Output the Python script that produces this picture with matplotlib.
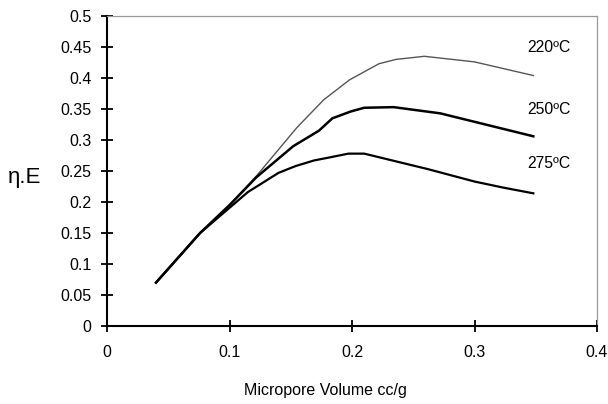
import matplotlib
matplotlib.use("Agg")
import matplotlib.pyplot as plt

plt.rcParams['font.family'] = ['Liberation Sans', 'DejaVu Sans']

# Data
x_220 = [0.04, 0.076, 0.100, 0.122, 0.155, 0.177, 0.198, 0.222, 0.236, 0.259, 0.300, 0.348]
y_220 = [0.070, 0.150, 0.195, 0.242, 0.320, 0.365, 0.397, 0.423, 0.430, 0.435, 0.426, 0.404]

x_250 = [0.04, 0.076, 0.100, 0.122, 0.152, 0.173, 0.184, 0.199, 0.210, 0.234, 0.272, 0.348]
y_250 = [0.070, 0.150, 0.195, 0.240, 0.290, 0.315, 0.335, 0.346, 0.352, 0.353, 0.343, 0.306]

x_275 = [0.04, 0.076, 0.115, 0.140, 0.154, 0.169, 0.182, 0.197, 0.210, 0.262, 0.300, 0.324, 0.348]
y_275 = [0.070, 0.150, 0.216, 0.247, 0.258, 0.267, 0.272, 0.278, 0.278, 0.253, 0.233, 0.223, 0.214]

labels = ["220ºC", "250ºC", "275ºC"]
label_y = [0.450, 0.349, 0.262]
label_x = 0.343

x_ticks = [0, 0.1, 0.2, 0.3, 0.4]
x_ticklabels = ["0", "0.1", "0.2", "0.3", "0.4"]
y_ticks = [0, 0.05, 0.1, 0.15, 0.2, 0.25, 0.3, 0.35, 0.4, 0.45, 0.5]
y_ticklabels = ["0", "0.05", "0.1", "0.15", "0.2", "0.25", "0.3", "0.35", "0.4", "0.45", "0.5"]

fig = plt.figure(figsize=(6.08, 4.04), dpi=100)
ax = fig.add_axes([107/608, 1-326/404, 490/608, 310/404])

ax.plot(x_220, y_220, color="#555555", lw=1.0)
ax.plot(x_250, y_250, color="black", lw=1.8)
ax.plot(x_275, y_275, color="black", lw=1.6)

for lab, ly in zip(labels, label_y):
    ax.text(label_x, ly, lab, fontsize=11.3, ha="left", va="center", color="black")

ax.set_xlim(0, 0.4)
ax.set_ylim(0, 0.5)
ax.set_xticks(x_ticks)
ax.set_xticklabels(x_ticklabels)
ax.set_yticks(y_ticks)
ax.set_yticklabels(y_ticklabels)

ax.tick_params(axis="both", direction="inout", length=8, width=1.3, labelsize=11.5, colors="black")
ax.tick_params(axis="y", pad=7)
ax.tick_params(axis="x", pad=10)

for s in ["left", "bottom"]:
    ax.spines[s].set_linewidth(1.5)
    ax.spines[s].set_color("black")
for s in ["top", "right"]:
    ax.spines[s].set_linewidth(0.9)
    ax.spines[s].set_color("#999999")

ax.set_xlabel("Micropore Volume cc/g", fontsize=11.5, va="center")
ax.xaxis.set_label_coords((325-107)/490, -(390-326)/310)
ax.set_ylabel("η.E", fontsize=16, rotation=0, va="center", ha="center")
ax.yaxis.set_label_coords((25-107)/490, (326-178)/310)

fig.savefig("out.png", dpi=100)
